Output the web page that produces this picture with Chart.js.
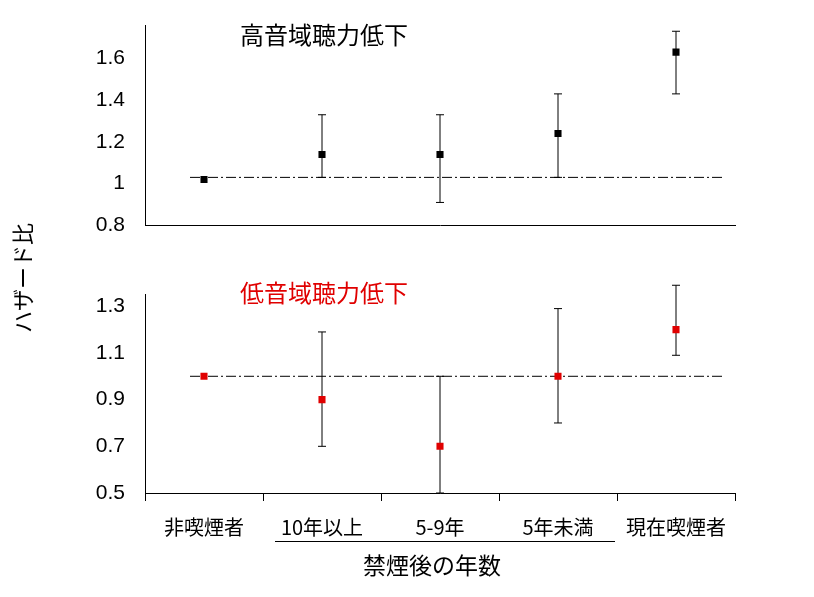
<!DOCTYPE html>
<html><head><meta charset="utf-8">
<script src="https://cdn.jsdelivr.net/npm/chart.js@4"></script>
<style>
body{margin:0;width:814px;height:597px;background:#fff;position:relative;overflow:hidden;font-family:"Noto Sans CJK JP","Liberation Sans",sans-serif}
canvas{position:absolute;left:0}
.t{position:absolute;white-space:nowrap}
</style></head><body>
<canvas id="c1" style="top:0;width:814px;height:250px" width="814" height="250"></canvas>
<canvas id="c2" style="top:270px;width:814px;height:327px" width="814" height="327"></canvas>
<div class="t" style="left:240px;top:16px;font-size:24px;color:#000">高音域聴力低下</div>
<div class="t" style="left:240px;top:274px;font-size:24px;color:#e00000">低音域聴力低下</div>
<div class="t" style="left:363px;top:547px;font-size:23px;color:#000">禁煙後の年数</div>
<div style="position:absolute;left:275px;top:541px;width:340px;height:0;border-top:1.5px solid #000"></div>
<div class="t" style="left:-34px;top:262px;font-size:22px;transform:rotate(-90deg);width:110px;text-align:center">ハザード比</div>
<script>
const categories=["非喫煙者","10年以上","5-9年","5年未満","現在喫煙者"];
const highVal=[1.02,1.14,1.14,1.24,1.63];
const highLo=[1.02,1.03,0.91,1.03,1.43];
const highHi=[1.02,1.33,1.33,1.43,1.73];
const highRef=1.03;
const highTicks=[0.8,1.0,1.2,1.4,1.6];
const lowVal=[1.0,0.9,0.7,1.0,1.2];
const lowLo=[1.0,0.7,0.5,0.8,1.09];
const lowHi=[1.0,1.19,1.0,1.29,1.39];
const lowRef=1.0;
const lowTicks=[0.5,0.7,0.9,1.1,1.3];

const errPlugin={id:'err',beforeDatasetsDraw(ch){
  const x=ch.scales.x,y=ch.scales.y,c=ch.ctx,p=ch.options.plugins.err;
  c.save();c.strokeStyle='#000';c.lineWidth=1;
  c.setLineDash([10,3,2,3]);c.beginPath();
  c.moveTo(190,y.getPixelForValue(p.ref));c.lineTo(722,y.getPixelForValue(p.ref));c.stroke();
  c.setLineDash([]);
  p.lo.forEach((l,i)=>{if(l===p.hi[i])return;const px=x.getPixelForValue(i),a=y.getPixelForValue(l),b=y.getPixelForValue(p.hi[i]);
    c.beginPath();c.moveTo(px,a);c.lineTo(px,b);c.moveTo(px-4,a);c.lineTo(px+4,a);c.moveTo(px-4,b);c.lineTo(px+4,b);c.stroke();});
  c.restore();
}};

function mk(id,vals,lo,hi,ref,ticks,min,max,color,padTop,bottom){
  return new Chart(document.getElementById(id),{type:'line',
   data:{labels:categories,datasets:[{data:vals,showLine:false,pointStyle:'rect',pointRadius:5,pointHoverRadius:5,backgroundColor:color,borderColor:color,borderWidth:0}]},
   plugins:[errPlugin],
   options:{responsive:false,animation:false,devicePixelRatio:1,
    layout:{padding:{top:padTop,right:79,left:0,bottom:0}},
    plugins:{legend:{display:false},tooltip:{enabled:false},err:{lo,hi,ref}},
    scales:{
     x:{offset:true,grid:{display:bottom,offset:true,drawOnChartArea:false,tickLength:8,color:'#000'},border:{display:true,color:'#000'},
        ticks:{display:bottom,color:'#000',padding:14,font:{size:20,family:'"Noto Sans CJK JP"'}},
        afterFit(s){s.height=bottom?104:2;}},
     y:{min,max,grid:{display:false},border:{display:true,color:'#000'},
        afterBuildTicks(s){s.ticks=ticks.map(v=>({value:v}));},
        ticks:{color:'#000',padding:12,font:{size:21,family:'"Liberation Sans"'},callback:v=>String(+v.toFixed(1))},
        afterFit(s){s.width=145;}}
    }}});
}
mk('c1',highVal,highLo,highHi,highRef,highTicks,0.8,1.76,'#000',25,false);
mk('c2',lowVal,lowLo,lowHi,lowRef,lowTicks,0.5,1.35,'#e00000',5,true);
</script></body></html>
